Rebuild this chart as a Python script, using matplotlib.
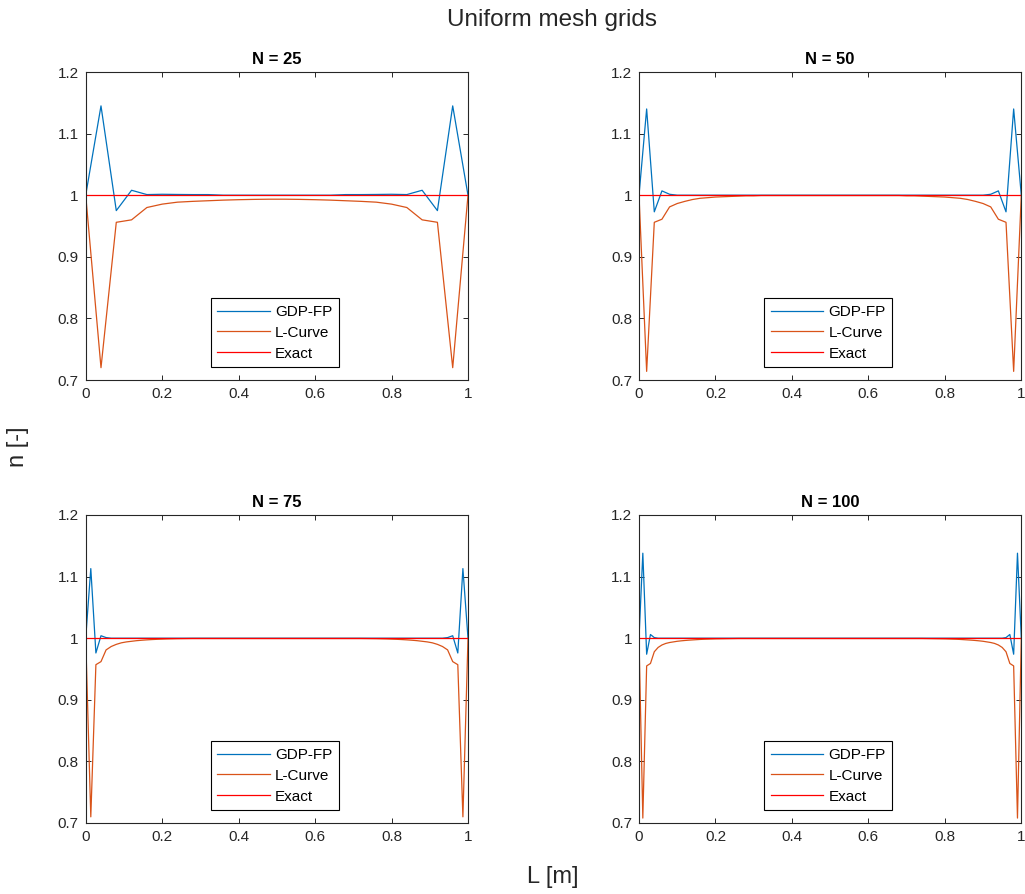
import numpy as np
import matplotlib
matplotlib.use("Agg")
import matplotlib.pyplot as plt

plt.rcParams['font.family'] = ['Liberation Sans', 'DejaVu Sans']

# ---------------- data ----------------
mesh_sizes = [25, 50, 75, 100]
panel_titles = ["N = 25", "N = 50", "N = 75", "N = 100"]
series_labels = ["GDP-FP", "L-Curve", "Exact"]
x_ticks = [0, 0.2, 0.4, 0.6, 0.8, 1]
x_ticklabels = ["0", "0.2", "0.4", "0.6", "0.8", "1"]
y_ticks = [0.7, 0.8, 0.9, 1.0, 1.1, 1.2]
y_ticklabels = ["0.7", "0.8", "0.9", "1", "1.1", "1.2"]
exact_value = 1.0

gdp25 = [1.000, 1.145, 0.975, 1.008, 1.001, 1.0015, 1.0012, 1.001, 1.001,
         1.000, 1.000, 1.000, 1.000, 1.000, 1.000, 1.000, 1.000,
         1.001, 1.001, 1.0012, 1.0015, 1.001, 1.008, 0.975, 1.145, 1.000]
lc25 = [1.000, 0.720, 0.956, 0.960, 0.980, 0.9855, 0.9887, 0.990, 0.991,
        0.992, 0.9927, 0.9932, 0.9935, 0.9935, 0.9932, 0.9927, 0.992,
        0.991, 0.990, 0.9887, 0.9855, 0.980, 0.960, 0.956, 0.720, 1.000]

gdp50 = [1.000, 1.140, 0.973, 1.007, 1.0015,
         1.000, 1.000, 1.000, 1.000, 1.000, 1.000, 1.000, 1.000, 1.000, 1.000,
         1.000, 1.000, 1.000, 1.000, 1.000, 1.000, 1.000, 1.000, 1.000, 1.000,
         1.000, 1.000, 1.000, 1.000, 1.000, 1.000, 1.000, 1.000, 1.000, 1.000,
         1.000, 1.000, 1.000, 1.000, 1.000, 1.000, 1.000, 1.000, 1.000, 1.000,
         1.000,
         1.0015, 1.007, 0.973, 1.140, 1.000]
lc50 = [1.000, 0.714, 0.956, 0.961, 0.981, 0.9865, 0.990, 0.993, 0.995,
        0.996, 0.997, 0.9975, 0.998, 0.9985, 0.999, 0.999,
        0.9995, 0.9995, 0.9995, 0.9995, 0.9995, 0.9995, 0.9995, 0.9995,
        0.9995, 0.9995, 0.9995, 0.9995, 0.9995, 0.9995, 0.9995, 0.9995,
        0.9995, 0.9995, 0.9995,
        0.999, 0.999, 0.9985, 0.998, 0.9975, 0.997, 0.996, 0.995, 0.993,
        0.990, 0.9865, 0.981, 0.961, 0.956, 0.714, 1.000]

gdp75 = [1.000, 1.113, 0.976, 1.004, 1.001,
         1.000, 1.000, 1.000, 1.000, 1.000, 1.000, 1.000, 1.000, 1.000, 1.000,
         1.000, 1.000, 1.000, 1.000, 1.000, 1.000, 1.000, 1.000, 1.000, 1.000,
         1.000, 1.000, 1.000, 1.000, 1.000, 1.000, 1.000, 1.000, 1.000, 1.000,
         1.000, 1.000, 1.000, 1.000, 1.000, 1.000, 1.000, 1.000, 1.000, 1.000,
         1.000, 1.000, 1.000, 1.000, 1.000, 1.000, 1.000, 1.000, 1.000, 1.000,
         1.000, 1.000, 1.000, 1.000, 1.000, 1.000, 1.000, 1.000, 1.000, 1.000,
         1.000, 1.000, 1.000, 1.000, 1.000, 1.000,
         1.001, 1.004, 0.976, 1.113, 1.000]
lc75 = [1.000, 0.710, 0.957, 0.962, 0.981, 0.9865, 0.990, 0.9925, 0.994,
        0.995, 0.996, 0.9967, 0.9973, 0.9978, 0.9982, 0.9985, 0.9988, 0.999,
        0.9992, 0.9993, 0.9994,
        0.9995, 0.9995, 0.9995, 0.9995, 0.9995, 0.9995, 0.9995, 0.9995,
        0.9995, 0.9995, 0.9995, 0.9995, 0.9995, 0.9995, 0.9995, 0.9995,
        0.9995, 0.9995, 0.9995, 0.9995, 0.9995, 0.9995, 0.9995, 0.9995,
        0.9995, 0.9995, 0.9995, 0.9995, 0.9995, 0.9995, 0.9995, 0.9995,
        0.9995, 0.9995,
        0.9994, 0.9993, 0.9992, 0.999, 0.9988, 0.9985, 0.9982, 0.9978,
        0.9973, 0.9967, 0.996, 0.995, 0.994, 0.9925, 0.990, 0.9865, 0.981,
        0.962, 0.957, 0.710, 1.000]

gdp100 = [1.000, 1.138, 0.974, 1.006, 1.001,
          1.000, 1.000, 1.000, 1.000, 1.000, 1.000, 1.000, 1.000, 1.000, 1.000,
          1.000, 1.000, 1.000, 1.000, 1.000, 1.000, 1.000, 1.000, 1.000, 1.000,
          1.000, 1.000, 1.000, 1.000, 1.000, 1.000, 1.000, 1.000, 1.000, 1.000,
          1.000, 1.000, 1.000, 1.000, 1.000, 1.000, 1.000, 1.000, 1.000, 1.000,
          1.000, 1.000, 1.000, 1.000, 1.000, 1.000, 1.000, 1.000, 1.000, 1.000,
          1.000, 1.000, 1.000, 1.000, 1.000, 1.000, 1.000, 1.000, 1.000, 1.000,
          1.000, 1.000, 1.000, 1.000, 1.000, 1.000, 1.000, 1.000, 1.000, 1.000,
          1.000, 1.000, 1.000, 1.000, 1.000, 1.000, 1.000, 1.000, 1.000, 1.000,
          1.000, 1.000, 1.000, 1.000, 1.000, 1.000, 1.000, 1.000, 1.000, 1.000,
          1.000,
          1.001, 1.006, 0.974, 1.138, 1.000]
lc100 = [1.000, 0.708, 0.955, 0.959, 0.978, 0.985, 0.989, 0.9915, 0.993,
         0.994, 0.995, 0.9957, 0.9963, 0.9968, 0.9972, 0.9976, 0.998, 0.9983,
         0.9985, 0.9987, 0.9989, 0.999, 0.9991, 0.9992, 0.9993, 0.9994,
         0.9995, 0.9995, 0.9995, 0.9995, 0.9995, 0.9995, 0.9995, 0.9995,
         0.9995, 0.9995, 0.9995, 0.9995, 0.9995, 0.9995, 0.9995, 0.9995,
         0.9995, 0.9995, 0.9995, 0.9995, 0.9995, 0.9995, 0.9995, 0.9995,
         0.9995, 0.9995, 0.9995, 0.9995, 0.9995, 0.9995, 0.9995, 0.9995,
         0.9995, 0.9995, 0.9995, 0.9995, 0.9995, 0.9995, 0.9995, 0.9995,
         0.9995, 0.9995, 0.9995, 0.9995, 0.9995, 0.9995, 0.9995, 0.9995,
         0.9995,
         0.9994, 0.9993, 0.9992, 0.9991, 0.999, 0.9989, 0.9987, 0.9985,
         0.9983, 0.998, 0.9976, 0.9972, 0.9968, 0.9963, 0.9957, 0.995, 0.994,
         0.993, 0.9915, 0.989, 0.985, 0.978, 0.959, 0.955, 0.708, 1.000]

gdp_series = [gdp25, gdp50, gdp75, gdp100]
lc_series = [lc25, lc50, lc75, lc100]

# ---------------- style ----------------
C_GDP = "#0072BD"
C_LC = "#D95319"
C_EX = "#FF0000"
AX_C = "#262626"

W, H = 1025, 894
fig = plt.figure(figsize=(W / 100, H / 100), dpi=100)

ax_w = 382.3 / W
ax_h = 308 / H
lefts = [85.7 / W, 639 / W]
bottoms = [1 - 380 / H, 1 - 823 / H]

for i, n in enumerate(mesh_sizes):
    r, c = divmod(i, 2)
    ax = fig.add_axes([lefts[c], bottoms[r], ax_w, ax_h])
    x = np.linspace(0, 1, len(gdp_series[i]))
    ax.plot(x, gdp_series[i], color=C_GDP, lw=0.9, label=series_labels[0])
    ax.plot(x, lc_series[i], color=C_LC, lw=0.9, label=series_labels[1])
    ax.plot(x, np.full_like(x, exact_value), color=C_EX, lw=0.9, label=series_labels[2])
    ax.set_xlim(0, 1)
    ax.set_ylim(0.7, 1.2)
    ax.set_xticks(x_ticks)
    ax.set_xticklabels(x_ticklabels)
    ax.set_yticks(y_ticks)
    ax.set_yticklabels(y_ticklabels)
    ax.tick_params(direction='in', length=3.5, width=0.7, colors=AX_C,
                   labelsize=11, top=True, right=True, pad=5)
    for sp in ax.spines.values():
        sp.set_color(AX_C)
        sp.set_linewidth(0.8)
    ax.set_title(panel_titles[i], fontsize=12, fontweight='bold', color='black', pad=6)
    leg = ax.legend(loc='lower center', bbox_to_anchor=(0.495, 0.042),
                    borderaxespad=0, fontsize=11, handlelength=3.45,
                    handletextpad=0.33, labelspacing=0.45, borderpad=0.42,
                    fancybox=False, framealpha=1, edgecolor='black')
    leg.get_frame().set_linewidth(0.8)

fig.text(552 / W, 1 - 20 / H, "Uniform mesh grids", ha='center', va='center',
         fontsize=17.5, color=AX_C)
fig.text(18 / W, 1 - 447 / H, "n [-]", ha='center', va='center', rotation=90,
         fontsize=17, color=AX_C)
fig.text(553 / W, 1 - 877 / H, "L [m]", ha='center', va='center',
         fontsize=17, color=AX_C)

fig.savefig("out.png", dpi=100, facecolor='white')
